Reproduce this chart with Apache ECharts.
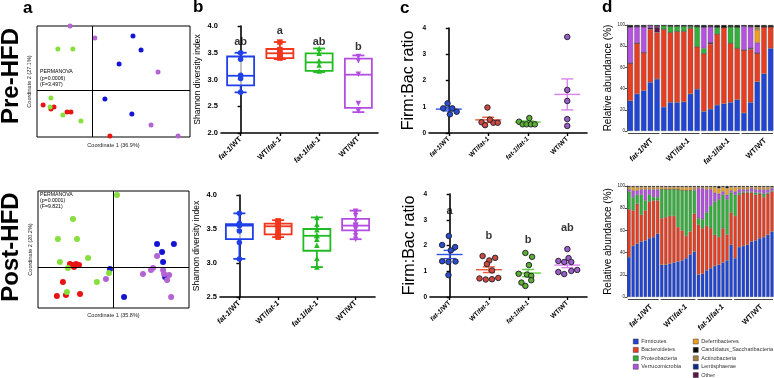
<!DOCTYPE html>
<html>
<head>
<meta charset="utf-8">
<script src="https://cdn.jsdelivr.net/npm/echarts@6/dist/echarts.min.js"></script>
<style>
  html, body { margin: 0; padding: 0; background: #fff; }
  #chart { width: 774px; height: 378px; }
</style>
</head>
<body>
<div id="chart"></div>
<script>
const groups = ['fat-1/WT', 'WT/fat-1', 'fat-1/fat-1', 'WT/WT'];

// a: PCoA coordinates (pre / post)
const pcoaPreFat1WT = [[0.145, 0.228], [0.174, 0.168], [0.095, 0.109], [0.044, -0.039], [0.141, -0.103]];
const pcoaPreWTFat1 = [[-0.178, -0.064], [-0.150, -0.081], [-0.139, -0.073], [-0.092, -0.094], [-0.078, -0.094], [0.062, -0.196]];
const pcoaPreFat1Fat1 = [[-0.125, 0.173], [-0.071, 0.173], [-0.150, -0.035], [-0.153, -0.073], [-0.107, -0.107], [-0.042, -0.132]];
const pcoaPreWTWT = [[-0.081, 0.270], [0.008, 0.219], [0.235, 0.075], [0.210, -0.149], [0.307, -0.196]];

const pcoaPostFat1WT = [[0.173, 0.085], [0.240, 0.085], [0.193, 0.056], [0.197, 0.019], [-0.014, -0.007], [0.205, -0.036], [0.042, -0.110]];
const pcoaPostWTFat1 = [[-0.173, 0.012], [-0.161, 0.008], [-0.149, 0.012], [-0.157, 0.001], [-0.137, 0.008], [-0.201, -0.054], [-0.133, -0.099], [-0.189, -0.102], [-0.225, -0.106]];
const pcoaPostFat1Fat1 = [[0.014, 0.265], [-0.161, 0.177], [-0.221, 0.104], [-0.145, 0.104], [-0.101, 0.034], [-0.213, 0.019], [-0.181, -0.003], [-0.018, -0.021], [-0.066, -0.054], [-0.185, -0.091]];
const pcoaPostWTWT = [[0.173, 0.041], [0.157, -0.003], [0.149, -0.010], [0.117, -0.025], [0.197, -0.010], [0.201, -0.025], [0.221, -0.029], [0.213, -0.047], [-0.030, -0.043], [0.229, -0.110]];

// b: Shannon index, box = [min, q1, median, q3, max]
const shannonPreBox = [[2.76, 2.89, 3.07, 3.43, 3.50], [3.38, 3.40, 3.49, 3.57, 3.70], [3.14, 3.16, 3.32, 3.49, 3.58], [2.39, 2.47, 3.09, 3.39, 3.45]];
const shannonPrePts = [[3.50, 3.38, 3.08, 3.02, 2.76], [3.70, 3.56, 3.49, 3.46, 3.43, 3.40], [3.58, 3.49, 3.35, 3.27, 3.16], [3.43, 3.35, 3.10, 2.55, 2.41]];
const shannonPreLetters = ['ab', 'a', 'ab', 'b'];
const shannonPreLetterY = [3.70, 3.91, 3.70, 3.61];
const shannonPostBox = [[3.06, 3.35, 3.55, 3.57, 3.73], [3.38, 3.42, 3.54, 3.58, 3.63], [2.94, 3.18, 3.40, 3.50, 3.67], [3.35, 3.48, 3.55, 3.65, 3.77]];
const shannonPostPts = [
  [3.73, 3.58, 3.55, 3.55, 3.47, 3.30, 3.06],
  [3.62, 3.60, 3.57, 3.55, 3.50, 3.45, 3.42, 3.40, 3.38],
  [3.67, 3.57, 3.49, 3.41, 3.40, 3.35, 3.26, 3.07, 2.94],
  [3.76, 3.74, 3.70, 3.62, 3.56, 3.55, 3.53, 3.50, 3.45, 3.40, 3.35]
];

// c: Firm:Bac ratio, points = [offset from category, value]
const ratioPrePts = [
  [[-0.03, 1.13], [0.09, 0.94], [-0.14, 0.94], [0.20, 0.81], [0.03, 0.71]],
  [[-0.02, 0.97], [-0.17, 0.41], [-0.08, 0.30], [0.13, 0.39], [0.24, 0.39], [0.04, 0.51]],
  [[0.04, 0.57], [-0.22, 0.43], [-0.13, 0.33], [-0.03, 0.33], [0.08, 0.33], [0.18, 0.33]],
  [[0, 3.66], [0, 1.64], [0, 1.22], [0, 0.53], [0, 0.27]]
];
const ratioPreMean = [0.91, 0.50, 0.42, 1.47];
const ratioPreSem = [0.07, 0.10, 0.04, 0.59];
const ratioPostPts = [
  [[-0.02, 2.37], [-0.19, 2.02], [0.14, 1.94], [0.03, 1.81], [-0.19, 1.39], [-0.03, 1.36], [0.15, 1.38], [-0.03, 0.85]],
  [[-0.16, 1.59], [0.16, 1.52], [0.01, 1.42], [-0.05, 1.28], [0.08, 1.03], [-0.24, 0.72], [-0.08, 0.68], [0.08, 0.69], [0.24, 0.74]],
  [[-0.07, 1.71], [0.10, 1.56], [0.02, 1.24], [-0.24, 0.90], [-0.03, 0.87], [0.08, 0.82], [0.08, 0.65], [-0.17, 0.56], [-0.07, 0.43]],
  [[0, 1.86], [0.03, 1.51], [-0.23, 1.40], [-0.08, 1.36], [0.10, 1.36], [0.25, 1.05], [0.10, 1.01], [-0.08, 0.89], [-0.23, 0.97]]
];
const ratioPostMean = [1.65, 1.06, 0.93, 1.24];
const ratioPostSem = [0.16, 0.11, 0.14, 0.10];
const ratioPostLetters = ['a', 'b', 'b', 'ab'];
const ratioPostLetterY = [3.34, 2.37, 2.21, 2.68];

// d: relative abundance (%) per sample
const preGroupSizes = [5, 6, 6, 5];
const preFirmicutes = [28.5, 35, 38, 46, 49, 22.6, 27, 27, 27.5, 35, 39.5, 18.5, 20.7, 24.5, 25.7, 27, 29.5, 17, 27, 46.4, 54, 78];
const preBacteroidetes = [35.5, 48, 36, 50, 44, 73.4, 66, 67, 66.5, 62, 40, 54.5, 61.3, 67, 72, 55.8, 48.5, 59.5, 50, 27, 44.4, 20.4];
const preOther = [0, 0, 0, 1.5, 5, 0, 0, 0, 0, 0, 0, 0, 1.5, 0, 0, 0, 0, 0, 1, 0, 0, 0];
const preProteobacteria = [0, 0, 0, 0, 0, 3.5, 6, 5, 5, 2, 19, 5, 0, 6.5, 0, 15.7, 20, 0, 0, 0, 0, 0];
const preVerrucomicrobia = [34, 15.5, 24.5, 2, 1, 0, 0, 0, 0, 0, 0, 20, 15, 0, 0, 0, 0, 22.5, 20.5, 10, 0, 0];
const preDeferribacteres = [0, 0, 0, 0, 0, 0, 0, 0, 0, 0, 0, 0, 0, 0, 0, 0, 0, 0, 0, 12, 0, 0];
const preActinobacteria = [0, 0, 0, 0, 0, 0, 0, 0, 0, 0, 0, 0, 0, 0, 0, 0, 0, 0, 0, 2.5, 0, 0];
const preLentisphaerae = [];
const preCandidatus = [2, 1.5, 1.5, 0.5, 1, 0.5, 1, 1, 1, 1, 1.5, 2, 1.5, 2, 2.3, 1.5, 2, 1, 1.5, 2.1, 1.6, 1.6];

const postGroupSizes = [8, 9, 9, 10];
const postFirmicutes = [36, 46, 48, 50, 51, 53, 54, 57, 29, 29, 30, 31, 32, 33, 35, 38, 41, 20, 21, 24, 26, 28, 29, 31, 33, 47, 35, 45, 46, 47, 50, 51, 53, 54, 56, 59];
const postBacteroidetes = [43, 32, 36, 24, 27, 33, 33, 30, 42, 43, 43, 42, 31, 27, 20, 21, 34, 45, 41, 40, 36, 28, 25, 31, 23, 29, 38, 47, 48, 47, 44, 41, 40, 36, 37, 36];
const postOther = [];
const postProteobacteria = [16, 12, 8, 18, 9, 6, 3, 3, 26, 25, 24, 24, 34, 36, 41, 37, 21, 6, 8, 12, 20, 30, 34, 30, 32, 18, 19, 2, 1, 1, 1, 2, 1, 3, 1, 1];
const postVerrucomicrobia = [2, 6, 4, 5, 10, 5, 7, 7, 0, 0, 0, 0, 0, 0, 0, 0, 1, 27, 28, 21, 15, 8, 5, 3, 4, 2, 3, 3, 2, 2, 3, 3, 3, 4, 3, 2];
const postDeferribacteres = [2, 3, 3, 2, 2, 2, 2, 2, 2, 2, 2, 2, 2, 3, 3, 3, 2, 1, 1, 2, 2, 5, 5, 4, 6, 3, 4, 2, 2, 2, 1, 2, 2, 2, 2, 1];
const postActinobacteria = [];
const postLentisphaerae = [];
const postCandidatus = [1, 1, 1, 1, 1, 1, 1, 1, 1, 1, 1, 1, 1, 1, 1, 1, 1, 1, 1, 1, 1, 1, 2, 1, 2, 1, 1, 1, 1, 1, 1, 1, 1, 1, 1, 1];

const phyla = ['Firmicutes', 'Bacteroidetes', 'Other', 'Proteobacteria', 'Verrucomicrobia', 'Deferribacteres', 'Actinobacteria', 'Lentisphaerae', 'Candidatus_Saccharibacteria'];
const phylaColors = ['#2044d4', '#e63e22', '#5b1548', '#33b03a', '#b552e0', '#f0a020', '#a58040', '#0d2a8a', '#0a0a0a'];
const preStacks = [preFirmicutes, preBacteroidetes, preOther, preProteobacteria, preVerrucomicrobia, preDeferribacteres, preActinobacteria, preLentisphaerae, preCandidatus];
const postStacks = [postFirmicutes, postBacteroidetes, postOther, postProteobacteria, postVerrucomicrobia, postDeferribacteres, postActinobacteria, postLentisphaerae, postCandidatus];

const font = '"Liberation Sans", Arial, Helvetica, sans-serif';
const groupColors = ['#1f3fe8', '#f0361c', '#22bb22', '#b34ee0'];
const pcoaColors = ['#1414d4', '#e81414', '#86e03c', '#b463d4'];
const dotFill = ['#2a4dcc', '#cc4a3c', '#5cae2e', '#9b5cc4'];
const meanColors = ['#2f55e6', '#e8583c', '#5ed23c', '#d884ee'];
const symbols = ['circle', 'rect', 'triangle', 'triangle'];

function richFor(size) {
  return {
    i: { fontStyle: 'italic', fontWeight: 'bold', fontSize: size, fontFamily: font, color: '#000', fill: '#000' },
    n: { fontWeight: 'bold', fontSize: size, fontFamily: font, color: '#000', fill: '#000' }
  };
}
function groupLabel(v) {
  return v.split('/').map(p => p === 'WT' ? '{n|WT}' : '{i|' + p + '}').join('{n|/}');
}

const grid = [], xAxis = [], yAxis = [], series = [];

function pcoaPanel(g, xr, yr, xName, yName, xGap, sets, size) {
  const gi = grid.push(Object.assign({ show: true, borderColor: '#000', borderWidth: 1, outerBoundsMode: 'none' }, g)) - 1;
  const nameStyle = { fontSize: 5.5, color: '#222', fontFamily: font };
  const xi = xAxis.push({ gridIndex: gi, type: 'value', min: xr[0], max: xr[1], axisLine: { show: false }, axisTick: { show: false },
    axisLabel: { show: false }, splitLine: { show: false }, name: xName, nameLocation: 'middle', nameGap: xGap, nameTextStyle: nameStyle }) - 1;
  const yi = yAxis.push({ gridIndex: gi, type: 'value', min: yr[0], max: yr[1], axisLine: { show: false }, axisTick: { show: false },
    axisLabel: { show: false }, splitLine: { show: false }, name: yName, nameLocation: 'middle', nameGap: 5, nameTextStyle: nameStyle }) - 1;
  sets.forEach((d, k) => {
    series.push({
      type: 'scatter', xAxisIndex: xi, yAxisIndex: yi, data: d, symbolSize: size,
      itemStyle: { color: pcoaColors[k], opacity: 1 },
      markLine: k === 0 ? { silent: true, symbol: 'none', label: { show: false },
        lineStyle: { color: '#000', width: 1, type: 'solid' }, data: [{ xAxis: 0 }, { yAxis: 0 }] } : undefined
    });
  });
}

function catPanel(g, yOpt, labelSize, labelMargin) {
  const gi = grid.push(Object.assign({ outerBoundsMode: 'none' }, g)) - 1;
  const cx = xAxis.push({ gridIndex: gi, type: 'category', data: groups, boundaryGap: true,
    axisLine: { show: true, onZero: false, lineStyle: { color: '#000', width: 1.6 } },
    axisTick: { show: true, alignWithLabel: true, length: 3, lineStyle: { color: '#000', width: 1.4 } },
    axisLabel: { rotate: 45, margin: labelMargin, formatter: groupLabel, rich: richFor(labelSize) },
    splitLine: { show: false } }) - 1;
  const vx = xAxis.push({ gridIndex: gi, type: 'value', min: -0.5, max: 3.5, show: false }) - 1;
  const yi = yAxis.push(Object.assign({ gridIndex: gi, type: 'value',
    axisLine: { show: true, lineStyle: { color: '#000', width: 1.6 } },
    axisTick: { show: true, length: 3, lineStyle: { color: '#000', width: 1.4 } },
    splitLine: { show: false }, nameLocation: 'middle' }, yOpt)) - 1;
  return { cx, vx, yi };
}

function boxItem(params, api) {
  const c = api.value(0);
  const x = api.coord([c, api.value(3)])[0];
  const y = [1, 2, 3, 4, 5].map(k => api.coord([c, api.value(k)])[1]);
  const col = groupColors[params.dataIndex];
  const hw = 13.5, cw = 6;
  const ls = { stroke: col, lineWidth: 1.8, fill: null };
  return { type: 'group', children: [
    { type: 'rect', shape: { x: x - hw, y: y[3], width: 2 * hw, height: y[1] - y[3] }, style: { stroke: col, lineWidth: 1.8, fill: 'rgba(255,255,255,0.7)' } },
    { type: 'line', shape: { x1: x - hw, y1: y[2], x2: x + hw, y2: y[2] }, style: ls },
    { type: 'line', shape: { x1: x, y1: y[3], x2: x, y2: y[4] }, style: ls },
    { type: 'line', shape: { x1: x - cw, y1: y[4], x2: x + cw, y2: y[4] }, style: ls },
    { type: 'line', shape: { x1: x, y1: y[1], x2: x, y2: y[0] }, style: ls },
    { type: 'line', shape: { x1: x - cw, y1: y[0], x2: x + cw, y2: y[0] }, style: ls }
  ] };
}

function semItem(params, api) {
  const c = api.value(0), m = api.value(1), s = api.value(2);
  const pm = api.coord([c, m]), pt = api.coord([c, m + s]), pb = api.coord([c, m - s]);
  const col = meanColors[params.dataIndex];
  const ls = { stroke: col, lineWidth: 1.4 };
  return { type: 'group', children: [
    { type: 'line', shape: { x1: pm[0] - 13, y1: pm[1], x2: pm[0] + 13, y2: pm[1] }, style: ls },
    { type: 'line', shape: { x1: pt[0], y1: pt[1], x2: pb[0], y2: pb[1] }, style: ls },
    { type: 'line', shape: { x1: pt[0] - 6, y1: pt[1], x2: pt[0] + 6, y2: pt[1] }, style: ls },
    { type: 'line', shape: { x1: pb[0] - 6, y1: pb[1], x2: pb[0] + 6, y2: pb[1] }, style: ls }
  ] };
}

function letterSeries(ax, letters, ys) {
  series.push({
    type: 'scatter', xAxisIndex: ax.vx, yAxisIndex: ax.yi, symbolSize: 1, itemStyle: { color: 'rgba(0,0,0,0)' },
    data: letters.map((t, i) => ({ value: [i, ys[i]], label: { formatter: t } })),
    label: { show: true, position: 'inside', fontSize: 11, fontWeight: 'bold', color: '#000', fontFamily: font }
  });
}

function shannonPanel(g, yMin, boxes, pts) {
  const ax = catPanel(g, { min: yMin, max: 4, interval: 0.5,
    axisLabel: { fontSize: 7.5, fontWeight: 'bold', color: '#000', margin: 3, formatter: v => v.toFixed(1) },
    name: 'Shannon diversity index', nameGap: 19, nameTextStyle: { fontSize: 8.5, color: '#000', fontFamily: font } }, 7.5, 5);
  series.push({ type: 'custom', xAxisIndex: ax.vx, yAxisIndex: ax.yi, renderItem: boxItem,
    encode: { x: 0, y: [1, 2, 3, 4, 5] }, data: boxes.map((b, i) => [i].concat(b)) });
  pts.forEach((p, i) => {
    series.push({ type: 'scatter', xAxisIndex: ax.vx, yAxisIndex: ax.yi, symbol: symbols[i], symbolRotate: i === 3 ? 180 : 0,
      symbolSize: 5.5, itemStyle: { color: groupColors[i], opacity: 1 }, data: p.map(v => [i, v]) });
  });
  return ax;
}

function ratioPanel(g, pts, means, sems) {
  const ax = catPanel(g, { min: 0, max: 4, interval: 1,
    axisLabel: { fontSize: 6.5, fontWeight: 'bold', color: '#000', margin: 3 },
    name: 'Firm:Bac ratio', nameGap: 12, nameTextStyle: { fontSize: 16, color: '#000', fontFamily: font } }, 6.5, 5);
  pts.forEach((p, i) => {
    series.push({ type: 'scatter', xAxisIndex: ax.vx, yAxisIndex: ax.yi, symbolSize: 5.5,
      itemStyle: { color: dotFill[i], borderColor: '#1c1c2c', borderWidth: 0.9, opacity: 1 },
      data: p.map(v => [i + v[0], v[1]]) });
  });
  series.push({ type: 'custom', xAxisIndex: ax.vx, yAxisIndex: ax.yi, renderItem: semItem,
    encode: { x: 0, y: 1 }, data: means.map((m, i) => [i, m, sems[i]]) });
  return ax;
}

const richD = richFor(7.5);
function bracketItem(params, api) {
  const s = api.value(0), e = api.value(1);
  const p0 = api.coord([s, 0]), p1 = api.coord([e, 0]);
  const bw = api.size([1, 0])[0];
  const y = p0[1] + 2.5;
  const x0 = p0[0] - bw / 2 + 1, x1 = p1[0] + bw / 2 - 1;
  const cx = (x0 + x1) / 2;
  return { type: 'group', children: [
    { type: 'line', shape: { x1: x0, y1: y, x2: x1, y2: y }, style: { stroke: '#444', lineWidth: 1 } },
    { type: 'text', x: cx + 8, y: y + 6, rotation: Math.PI / 4,
      style: { text: groupLabel(groups[params.dataIndex]), rich: richD, align: 'right', verticalAlign: 'middle', fill: '#000' } }
  ] };
}

function stackPanel(g, stacks, sizes, stackId) {
  const gi = grid.push(Object.assign({ outerBoundsMode: 'none' }, g)) - 1;
  const xi = xAxis.push({ gridIndex: gi, type: 'category', data: stacks[0].map((v, i) => stackId + i),
    axisLine: { show: false }, axisTick: { show: false }, axisLabel: { show: false }, splitLine: { show: false } }) - 1;
  const yi = yAxis.push({ gridIndex: gi, type: 'value', min: 0, max: 100, interval: 20,
    axisLine: { show: true, lineStyle: { color: '#222', width: 0.8 } },
    axisTick: { show: true, length: 2, lineStyle: { color: '#222', width: 0.8 } },
    axisLabel: { fontSize: 4.5, color: '#222', margin: 2 }, splitLine: { show: false },
    name: 'Relative abundance (%)', nameLocation: 'middle', nameGap: 10,
    nameTextStyle: { fontSize: 10, color: '#000', fontFamily: font } }) - 1;
  stacks.forEach((d, k) => {
    series.push({ type: 'bar', name: phyla[k], xAxisIndex: xi, yAxisIndex: yi, stack: stackId, data: d,
      barCategoryGap: '18%', itemStyle: { color: phylaColors[k], borderColor: 'rgba(70,70,70,0.75)', borderWidth: 0.4 } });
  });
  const ranges = [];
  let start = 0;
  sizes.forEach(s => { ranges.push([start, start + s - 1, 0]); start += s; });
  series.push({ type: 'custom', xAxisIndex: xi, yAxisIndex: yi, renderItem: bracketItem,
    encode: { x: [0, 1], y: 2 }, data: ranges, silent: true });
}

// row 1: Pre-HFD
pcoaPanel({ left: 37, top: 26, width: 153, height: 111 }, [-0.2, 0.35], [-0.2, 0.27],
  'Coordinate 1 (36.9%)', 'Coordinate 2 (27.1%)', 5, [pcoaPreFat1WT, pcoaPreWTFat1, pcoaPreFat1Fat1, pcoaPreWTWT], 5);
const bPre = shannonPanel({ left: 221, top: 26, width: 157, height: 107 }, 2, shannonPreBox, shannonPrePts);
letterSeries(bPre, shannonPreLetters, shannonPreLetterY);
ratioPanel({ left: 429, top: 28, width: 158, height: 105 }, ratioPrePts, ratioPreMean, ratioPreSem);
stackPanel({ left: 627, top: 25, width: 147, height: 106 }, preStacks, preGroupSizes, 'pre');

// row 2: Post-HFD
pcoaPanel({ left: 38, top: 191, width: 151, height: 117 }, [-0.3, 0.3], [-0.15, 0.28],
  'Coordinate 1 (35.8%)', 'Coordinate 2 (20.2%)', 4, [pcoaPostFat1WT, pcoaPostWTFat1, pcoaPostFat1Fat1, pcoaPostWTWT], 6);
shannonPanel({ left: 220, top: 195, width: 155, height: 102 }, 2.5, shannonPostBox, shannonPostPts);
const cPost = ratioPanel({ left: 430, top: 194, width: 157, height: 103 }, ratioPostPts, ratioPostMean, ratioPostSem);
letterSeries(cPost, ratioPostLetters, ratioPostLetterY);
stackPanel({ left: 627, top: 186, width: 147, height: 111 }, postStacks, postGroupSizes, 'post');

const legendBase = { orient: 'vertical', icon: 'rect', itemWidth: 5, itemHeight: 5, itemGap: 2.4, selectedMode: false,
  padding: 0, height: 60, itemStyle: { borderColor: '#333', borderWidth: 0.5 },
  textStyle: { fontSize: 5.5, lineHeight: 6, color: '#333', fontFamily: font, padding: [0, 0, 0, -2] } };

function txt(x, y, text, size, weight) {
  return { type: 'text', x: x, y: y, silent: true,
    style: { text: text, fontSize: size, fontWeight: weight, fontFamily: font, fill: '#000',
      textAlign: 'left', align: 'left', textVerticalAlign: 'middle', verticalAlign: 'middle' } };
}
function vtxt(x, y, text, size) {
  return { type: 'text', x: x, y: y, rotation: Math.PI / 2, silent: true,
    style: { text: text, fontSize: size, fontWeight: 'bold', fontFamily: font, fill: '#000',
      textAlign: 'center', align: 'center', textVerticalAlign: 'middle', verticalAlign: 'middle' } };
}

const option = {
  animation: false,
  backgroundColor: '#fff',
  textStyle: { fontFamily: font },
  grid: grid,
  xAxis: xAxis,
  yAxis: yAxis,
  series: series,
  legend: [
    Object.assign({ left: 633, top: 338.5, data: ['Firmicutes', 'Bacteroidetes', 'Proteobacteria', 'Verrucomicrobia'] }, legendBase),
    Object.assign({ left: 693, top: 338.5, data: ['Deferribacteres', 'Candidatus_Saccharibacteria', 'Actinobacteria', 'Lentisphaerae', 'Other'] }, legendBase)
  ],
  graphic: [
    txt(23, 8, 'a', 17, 'bold'),
    txt(193, 7, 'b', 17, 'bold'),
    txt(400, 8, 'c', 17, 'bold'),
    txt(602, 7, 'd', 17, 'bold'),
    vtxt(11, 76, 'Pre-HFD', 24),
    vtxt(11, 247, 'Post-HFD', 24),
    txt(40, 72, 'PERMANOVA', 5.2, 'normal'),
    txt(40, 79, '(p=0.0006)', 5.2, 'normal'),
    txt(40, 85, '(F=3.497)', 5.2, 'normal'),
    txt(40, 194.5, 'PERMANOVA', 5.2, 'normal'),
    txt(40, 201, '(p=0.0001)', 5.2, 'normal'),
    txt(40, 207, '(F=9.821)', 5.2, 'normal')
  ]
};

const chart = echarts.init(document.getElementById('chart'), null, { renderer: 'canvas' });
chart.setOption(option);
window.onresize = () => chart.resize();
</script>
</body>
</html>
